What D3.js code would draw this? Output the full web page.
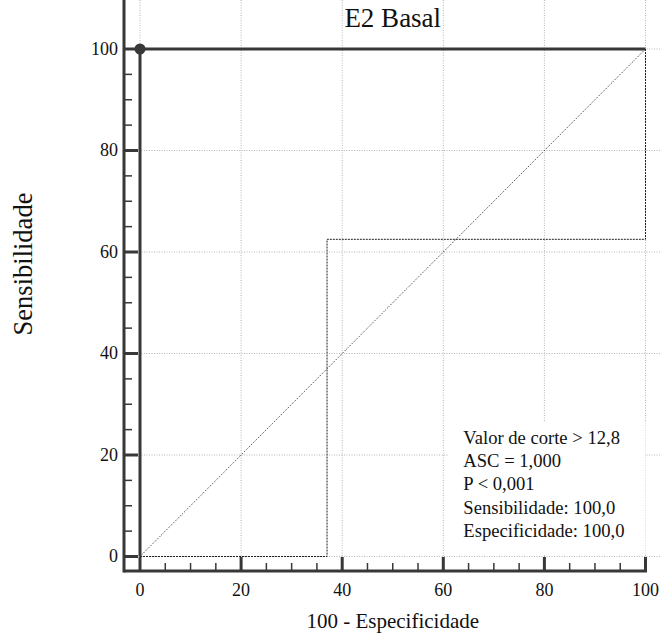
<!DOCTYPE html>
<html>
<head>
<meta charset="utf-8">
<script src="https://cdn.jsdelivr.net/npm/d3@7"></script>
<style>
  body { margin: 0; background: #fff; }
  text { font-family: "Liberation Serif", "Times New Roman", serif; fill: #111; }
</style>
</head>
<body>
<div id="roc"></div>
<script>
var width = 661,
    height = 639,
    curveColor = "#383838",
    gridColor = "#b4b4b4";

// data
var rocX = [0, 0, 100],
    rocY = [0, 100, 100],
    ciX = [0, 37, 37, 100, 100],
    ciY = [0, 0, 62.5, 62.5, 100],
    cutX = [0],
    cutY = [100],
    refLine = [0, 100],
    xTicks = [0, 20, 40, 60, 80, 100],
    yTicks = [0, 20, 40, 60, 80, 100],
    minorTicks = d3.range(0, 101, 5),
    statLines = ["Valor de corte > 12,8", "ASC = 1,000", "P < 0,001",
                 "Sensibilidade: 100,0", "Especificidade: 100,0"];

var svg = d3.select("#roc").append("svg")
    .attr("width", width)
    .attr("height", height);

var x = d3.scaleLinear().domain([0, 100]).range([140, 645.5]);
var y = d3.scaleLinear().domain([0, 100]).range([556.5, 49]);

var axisGap = 16,
    left = x(0) - axisGap,
    bottom = y(0) + 14.5,
    top = y(100) - 12;

// grid
svg.append("g").selectAll("line")
    .data(xTicks)
    .enter().append("line")
    .attr("x1", d => x(d)).attr("x2", d => x(d))
    .attr("y1", top).attr("y2", bottom)
    .attr("stroke", gridColor)
    .attr("stroke-dasharray", "1,1.5");

svg.append("g").selectAll("line")
    .data(yTicks)
    .enter().append("line")
    .attr("y1", d => y(d)).attr("y2", d => y(d))
    .attr("x1", left).attr("x2", width)
    .attr("stroke", gridColor)
    .attr("stroke-dasharray", "1,1.5");

// stats box (white, covers grid)
var boxX = x(61), boxY = y(26.5);
svg.append("rect")
    .attr("x", boxX)
    .attr("y", boxY)
    .attr("width", x(100) - boxX)
    .attr("height", y(0.3) - boxY)
    .attr("fill", "#fff");

svg.selectAll("text.stat")
    .data(statLines)
    .enter().append("text")
    .attr("class", "stat")
    .attr("x", boxX + 15)
    .attr("y", (d, i) => boxY + 22 + i * 23.2)
    .style("font-size", "18.6px")
    .text(d => d);

var line = d3.line().x(d => x(d[0])).y(d => y(d[1]));

// reference diagonal
svg.append("path")
    .datum(refLine.map(v => [v, v]))
    .attr("d", line)
    .attr("fill", "none")
    .attr("stroke", "#222")
    .attr("stroke-width", 1)
    .attr("stroke-dasharray", "1,1.5");

// confidence bound
svg.append("path")
    .datum(ciX.map((v, i) => [v, ciY[i]]))
    .attr("d", line)
    .attr("fill", "none")
    .attr("stroke", "#222")
    .attr("stroke-width", 1)
    .attr("stroke-dasharray", "2,1");

// ROC curve
svg.append("path")
    .datum(rocX.map((v, i) => [v, rocY[i]]))
    .attr("d", line)
    .attr("fill", "none")
    .attr("stroke", curveColor)
    .attr("stroke-width", 3);

svg.selectAll("circle")
    .data(cutX.map((v, i) => [v, cutY[i]]))
    .enter().append("circle")
    .attr("cx", d => x(d[0]))
    .attr("cy", d => y(d[1]))
    .attr("r", 5.5)
    .attr("fill", curveColor);

// axes
var xAxis = svg.append("g");
xAxis.append("line")
    .attr("x1", left).attr("x2", x(100) + 1.5)
    .attr("y1", bottom).attr("y2", bottom)
    .attr("stroke", curveColor).attr("stroke-width", 3);
xAxis.selectAll("line.minor")
    .data(minorTicks.filter(d => d % 20))
    .enter().append("line")
    .attr("class", "minor")
    .attr("x1", d => x(d)).attr("x2", d => x(d))
    .attr("y1", bottom).attr("y2", bottom - 8)
    .attr("stroke", curveColor).attr("stroke-width", 1.5);
xAxis.selectAll("line.major")
    .data(xTicks)
    .enter().append("line")
    .attr("class", "major")
    .attr("x1", d => x(d)).attr("x2", d => x(d))
    .attr("y1", bottom).attr("y2", bottom - 14)
    .attr("stroke", curveColor).attr("stroke-width", 3);
xAxis.selectAll("text")
    .data(xTicks)
    .enter().append("text")
    .attr("x", d => x(d))
    .attr("y", bottom + 25)
    .attr("text-anchor", "middle")
    .style("font-size", "18px")
    .text(d => d);

var yAxis = svg.append("g");
yAxis.append("line")
    .attr("x1", left).attr("x2", left)
    .attr("y1", bottom + 1.5).attr("y2", top)
    .attr("stroke", curveColor).attr("stroke-width", 3);
yAxis.selectAll("line.minor")
    .data(minorTicks.filter(d => d % 20))
    .enter().append("line")
    .attr("class", "minor")
    .attr("x1", left).attr("x2", left + 8)
    .attr("y1", d => y(d)).attr("y2", d => y(d))
    .attr("stroke", curveColor).attr("stroke-width", 1.5);
yAxis.selectAll("line.major")
    .data(yTicks)
    .enter().append("line")
    .attr("class", "major")
    .attr("x1", left).attr("x2", left + 14)
    .attr("y1", d => y(d)).attr("y2", d => y(d))
    .attr("stroke", curveColor).attr("stroke-width", 3);
yAxis.selectAll("text")
    .data(yTicks)
    .enter().append("text")
    .attr("x", left - 6)
    .attr("y", d => y(d))
    .attr("dy", "0.33em")
    .attr("text-anchor", "end")
    .style("font-size", "18px")
    .text(d => d);

// titles
var midX = (x(0) + x(100)) / 2;
svg.append("text")
    .attr("x", midX)
    .attr("y", 27)
    .attr("text-anchor", "middle")
    .style("font-size", "27px")
    .text("E2 Basal");

svg.append("text")
    .attr("x", midX)
    .attr("y", 628)
    .attr("text-anchor", "middle")
    .style("font-size", "21px")
    .text("100 - Especificidade");

svg.append("text")
    .attr("transform", "translate(32,264) rotate(-90)")
    .attr("text-anchor", "middle")
    .style("font-size", "26.5px")
    .text("Sensibilidade");
</script>
</body>
</html>
